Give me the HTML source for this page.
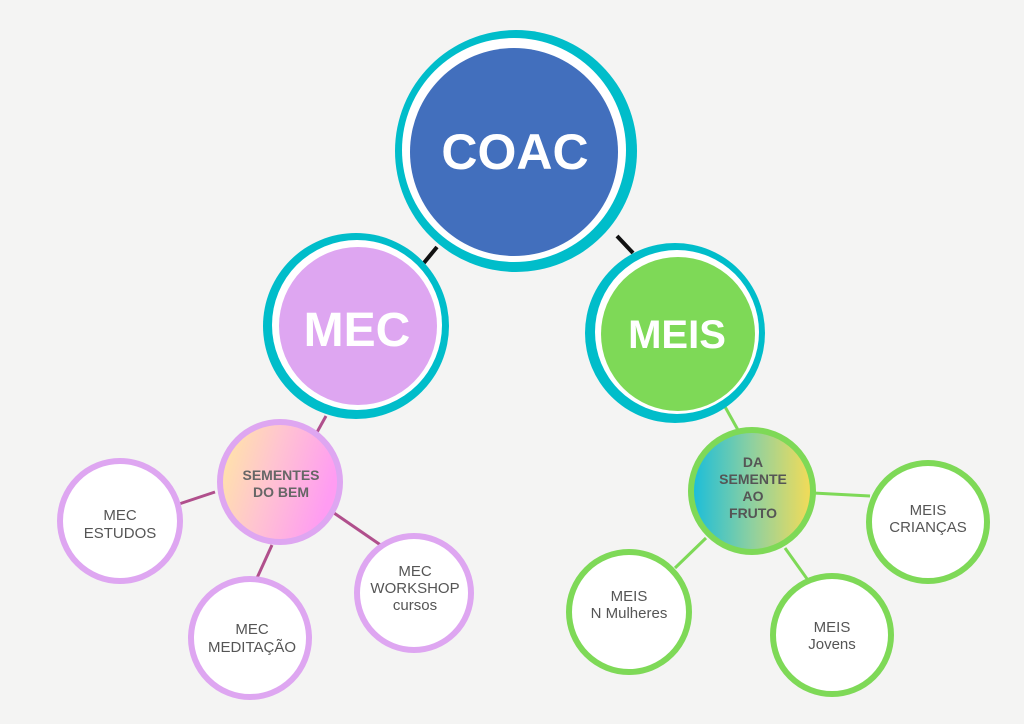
<!DOCTYPE html>
<html><head><meta charset="utf-8"><style>
html,body{margin:0;padding:0;background:#f4f4f3;}
svg{display:block;font-family:"Liberation Sans",sans-serif;}
</style></head><body>
<svg width="1024" height="724" viewBox="0 0 1024 724" xmlns="http://www.w3.org/2000/svg">
<defs>
<linearGradient id="g1" x1="0" y1="0" x2="1" y2="0.3">
<stop offset="0" stop-color="#ffeaa0"/><stop offset="0.5" stop-color="#ffc4d0"/><stop offset="1" stop-color="#ff9cf2"/></linearGradient>
<linearGradient id="g2" x1="0" y1="0" x2="1" y2="0">
<stop offset="0" stop-color="#18bddb"/><stop offset="0.5" stop-color="#8ed0a0"/><stop offset="1" stop-color="#f6dc55"/></linearGradient>
</defs>
<rect width="1024" height="724" fill="#f4f4f3"/>
<g stroke="#111" stroke-width="4"><line x1="437" y1="247" x2="423" y2="264"/><line x1="617" y1="236" x2="633" y2="253"/></g>
<g stroke="#b04f8c" stroke-width="3"><line x1="326" y1="416" x2="316" y2="434"/><line x1="215" y1="492" x2="176" y2="505"/><line x1="272" y1="545" x2="257" y2="578"/><line x1="334" y1="513" x2="382" y2="546"/></g>
<g stroke="#7ed957" stroke-width="3"><line x1="719" y1="396" x2="738" y2="430"/><line x1="813" y1="493" x2="870" y2="496"/><line x1="785" y1="548" x2="810" y2="583"/><line x1="706" y1="538" x2="675" y2="568"/></g>
<circle cx="516" cy="151" r="121" fill="#00bdca"/><circle cx="514" cy="150" r="112" fill="#fff"/><circle cx="514" cy="152" r="104" fill="#426fbd"/>
<text x="515" y="169" text-anchor="middle" font-size="50" font-weight="bold" fill="#fff">COAC</text>
<circle cx="356" cy="326" r="93" fill="#00bdca"/><circle cx="357" cy="325" r="85" fill="#fff"/><circle cx="358" cy="326" r="79" fill="#dea6f1"/>
<text x="357" y="346" text-anchor="middle" font-size="48" font-weight="bold" fill="#fff">MEC</text>
<circle cx="675" cy="333" r="90" fill="#00bdca"/><circle cx="677" cy="332" r="82" fill="#fff"/><circle cx="678" cy="334" r="77" fill="#7ed957"/>
<text x="677" y="348" text-anchor="middle" font-size="40" font-weight="bold" fill="#fff">MEIS</text>
<circle cx="280" cy="482" r="60" fill="url(#g1)" stroke="#dea6f1" stroke-width="6"/>
<text text-anchor="middle" font-size="14" font-weight="bold" fill="#666"><tspan x="281" y="480">SEMENTES</tspan><tspan x="281" y="497">DO BEM</tspan></text>
<g fill="#fff" stroke="#dea6f1" stroke-width="6"><circle cx="120" cy="521" r="60"/><circle cx="250" cy="638" r="59"/><circle cx="414" cy="593" r="57"/></g>
<g fill="#fff" stroke="#7ed957" stroke-width="6"><circle cx="928" cy="522" r="59"/><circle cx="832" cy="635" r="59"/><circle cx="629" cy="612" r="60"/></g>
<circle cx="752" cy="491" r="61" fill="url(#g2)" stroke="#7ed957" stroke-width="6"/>
<text text-anchor="middle" font-size="14" font-weight="bold" fill="#555"><tspan x="753" y="467">DA</tspan><tspan x="753" y="484">SEMENTE</tspan><tspan x="753" y="501">AO</tspan><tspan x="753" y="518">FRUTO</tspan></text>
<g text-anchor="middle" font-size="15" fill="#555">
<text><tspan x="120" y="520">MEC</tspan><tspan x="120" y="538">ESTUDOS</tspan></text>
<text><tspan x="252" y="634">MEC</tspan><tspan x="252" y="652">MEDITAÇÃO</tspan></text>
<text><tspan x="415" y="576">MEC</tspan><tspan x="415" y="593">WORKSHOP</tspan><tspan x="415" y="610">cursos</tspan></text>
<text><tspan x="928" y="515">MEIS</tspan><tspan x="928" y="532">CRIANÇAS</tspan></text>
<text><tspan x="832" y="632">MEIS</tspan><tspan x="832" y="649">Jovens</tspan></text>
<text><tspan x="629" y="601">MEIS</tspan><tspan x="629" y="618">N Mulheres</tspan></text>
</g>
</svg>
</body></html>
